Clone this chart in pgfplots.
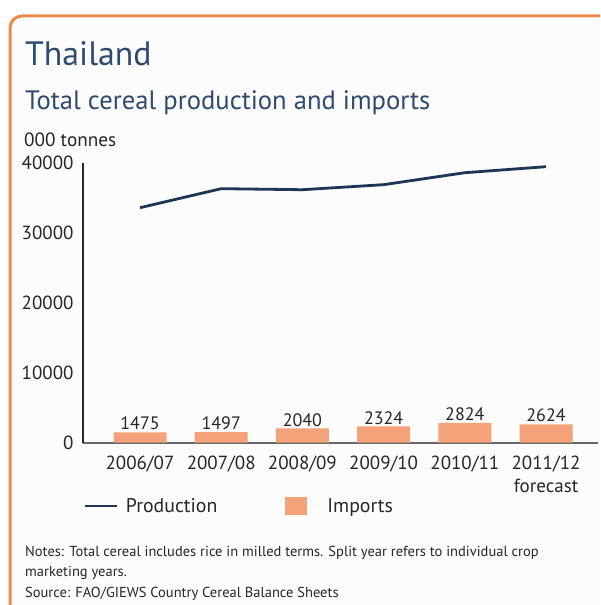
\documentclass[border=0pt]{standalone}
\usepackage{fontspec}
\setmainfont{PT Sans}
\usepackage{pgfplots}
\pgfplotsset{compat=1.18}
\definecolor{framecol}{HTML}{EC8A4E}
\definecolor{impcol}{HTML}{F4A27A}
\definecolor{prodcol}{HTML}{1E3653}
\definecolor{titlecol}{HTML}{2E4A6C}
\definecolor{txtcol}{HTML}{262626}
\begin{document}
\begin{tikzpicture}[x=1pt,y=1pt]
\clip (0,0) rectangle (600,605);
\fill[white] (0,0) rectangle (600,605);
\fill[black!1] (10,-20) -- (10,589) -- (620,589) -- (620,-20) -- cycle;
\draw[framecol, line width=3pt, rounded corners=12pt] (10,-20) -- (10,589) -- (620,589);
\node[anchor=base west, inner sep=0, text=titlecol, font=\fontsize{33.8}{40}\selectfont] at (25,539) {Thailand};
\node[anchor=base west, inner sep=0, text=titlecol, font=\fontsize{26.6}{32}\selectfont] at (25,495) {Total cereal production and imports};
\node[anchor=base west, inner sep=0, text=txtcol, font=\fontsize{19.2}{23}\selectfont] at (24,458.5) {000 tonnes};
\node[anchor=base west, inner sep=0, text=txtcol, font=\fontsize{14.5}{17}\selectfont] at (25,48) {Notes: Total cereal includes rice in milled terms. Split year refers to individual crop};
\node[anchor=base west, inner sep=0, text=txtcol, font=\fontsize{14.5}{17}\selectfont] at (25,28) {marketing years.};
\node[anchor=base west, inner sep=0, text=txtcol, font=\fontsize{14.5}{17}\selectfont] at (25,8) {Source: FAO/GIEWS Country Cereal Balance Sheets};
\begin{axis}[
  at={(83pt,162.3pt)}, anchor=south west,
  scale only axis, width=515pt, height=280pt,
  xmin=-0.702, xmax=5.64, ymin=0, ymax=40000,
  separate axis lines,
  axis x line=bottom, axis y line=left,
  x axis line style={-, draw=black!60, line width=2pt},
  y axis line style={-, draw=black!85, line width=1.3pt},
  major tick length=0pt,
  xtick={0,1,2,3,4,5},
  xticklabels={2006/07,2007/08,2008/09,2009/10,2010/11,{2011/12\\forecast}},
  xticklabel style={align=center, font=\fontsize{19}{23}\selectfont, text=txtcol, anchor=north, yshift=-10pt},
  ytick={0,10000,20000,30000,40000},
  scaled y ticks=false,
  yticklabel style={font=\fontsize{19}{23}\selectfont, text=txtcol, xshift=-6pt},
  /pgf/number format/assume math mode=true,
  /pgf/number format/set thousands separator={},
  clip=false,
  legend columns=2,
  legend style={at={(0,-0.226)}, anchor=west, draw=none, fill=none,
    font=\fontsize{19.8}{23}\selectfont, text=txtcol, inner sep=0pt,
    /tikz/every odd column/.append style={column sep=6pt},
    /tikz/every even column/.append style={column sep=66pt}},
]
\addplot[prodcol, line width=2.8pt, line join=round,
  legend image code/.code={\draw[prodcol, line width=2.8pt] (0pt,0pt) -- (32pt,0pt);}]
  coordinates {(0,33570) (1,36290) (2,36140) (3,36860) (4,38570) (5,39430)};
\addlegendentry{Production}
\addplot[ybar, bar width=53pt, fill=impcol, draw=none,
  nodes near coords,
  nodes near coords style={font=\fontsize{18}{21.5}\selectfont, text=txtcol, anchor=south, inner sep=2pt},
  legend image code/.code={\fill[impcol] (0pt,-9pt) rectangle (22pt,9pt); \path (0pt,0pt) -- (34pt,0pt);}]
  coordinates {(0,1475) (1,1497) (2,2040) (3,2324) (4,2824) (5,2624)};
\addlegendentry{Imports}
\end{axis}
\end{tikzpicture}
\end{document}
